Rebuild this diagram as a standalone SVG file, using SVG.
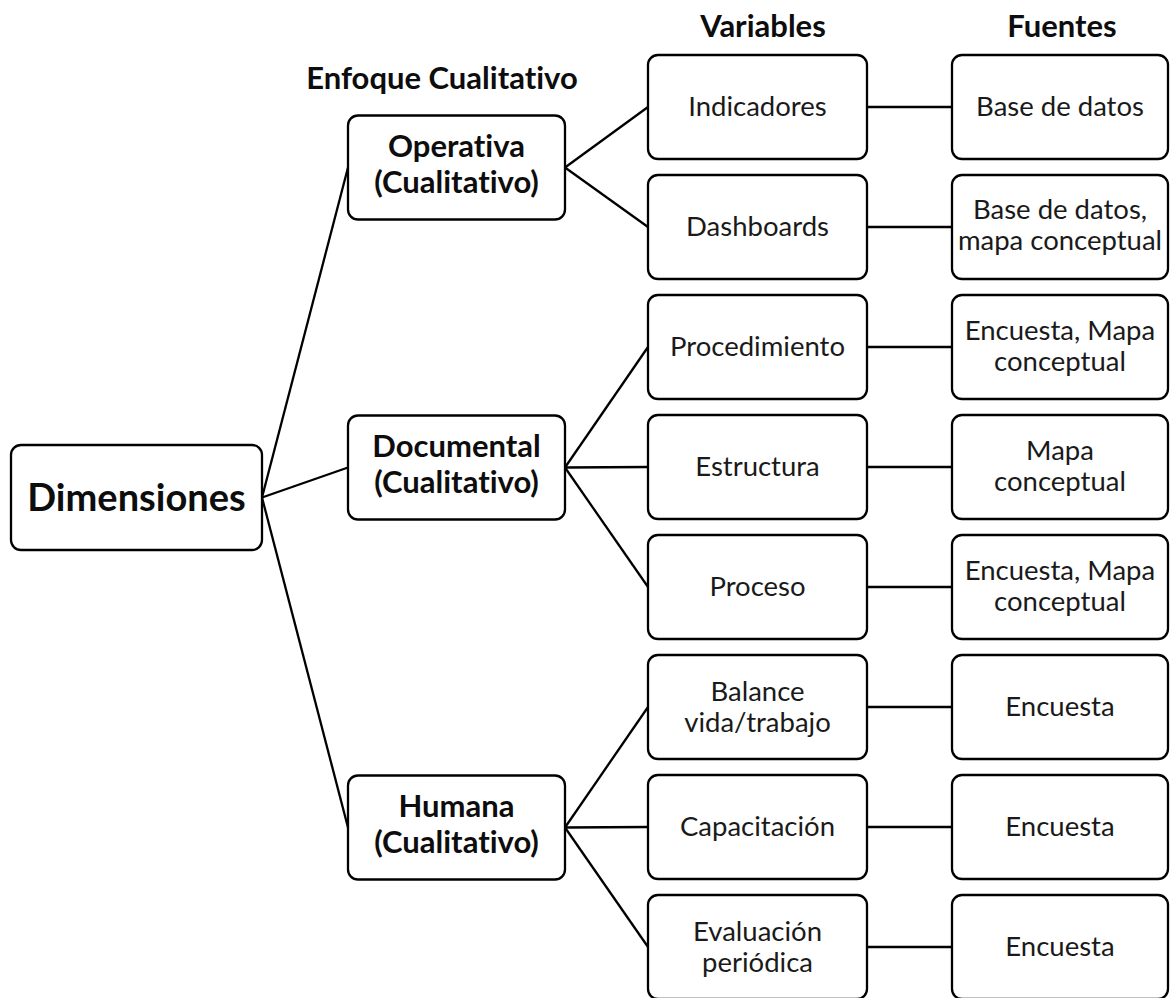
<svg xmlns="http://www.w3.org/2000/svg" width="1176" height="998" viewBox="0 0 1176 998">
<style>
  .box { fill: #fff; stroke: #000; stroke-width: 2.3; }
  .ln { stroke: #000; stroke-width: 2.3; fill: none; }
  text { font-family: Lato, "Open Sans", "Liberation Sans", sans-serif; fill: #0d0d0d; text-anchor: middle; font-variant-ligatures: none; font-feature-settings: "liga" 0, "dlig" 0; }
  .r { font-size: 27.5px; fill: #1a1a1a; }
  .b { font-size: 31px; font-weight: bold; }
  .big { font-size: 38px; font-weight: bold; }
</style>
<rect width="1176" height="998" fill="#fff"/>
<g id="connectors">
  <line class="ln" x1="262" y1="497.5" x2="348" y2="167.5"/>
  <line class="ln" x1="262" y1="497.5" x2="348" y2="467.5"/>
  <line class="ln" x1="262" y1="497.5" x2="348" y2="827.5"/>
  <line class="ln" x1="565" y1="167.5" x2="648" y2="107"/>
  <line class="ln" x1="565" y1="167.5" x2="648" y2="227"/>
  <line class="ln" x1="565" y1="467.5" x2="648" y2="347"/>
  <line class="ln" x1="565" y1="467.5" x2="648" y2="467"/>
  <line class="ln" x1="565" y1="467.5" x2="648" y2="587"/>
  <line class="ln" x1="565" y1="827.5" x2="648" y2="707"/>
  <line class="ln" x1="565" y1="827.5" x2="648" y2="827"/>
  <line class="ln" x1="565" y1="827.5" x2="648" y2="947"/>
  <line class="ln" x1="867" y1="107" x2="952" y2="107"/>
  <line class="ln" x1="867" y1="227" x2="952" y2="227"/>
  <line class="ln" x1="867" y1="347" x2="952" y2="347"/>
  <line class="ln" x1="867" y1="467" x2="952" y2="467"/>
  <line class="ln" x1="867" y1="587" x2="952" y2="587"/>
  <line class="ln" x1="867" y1="707" x2="952" y2="707"/>
  <line class="ln" x1="867" y1="827" x2="952" y2="827"/>
  <line class="ln" x1="867" y1="947" x2="952" y2="947"/>
</g>
<g id="headers">
  <text class="b" x="442" y="89">Enfoque Cualitativo</text>
  <text class="b" x="763" y="37">Variables</text>
  <text class="b" x="1062" y="37">Fuentes</text>
</g>
<g id="dimensiones">
  <rect class="box" x="11" y="445" width="251" height="105" rx="10"/>
  <text class="big" x="136.5" y="511">Dimensiones</text>
</g>
<g id="operativa">
  <rect class="box" x="348" y="115.5" width="217" height="104" rx="10"/>
  <text class="b" x="456.5" y="157">Operativa</text>
  <text class="b" x="456.5" y="193">(Cualitativo)</text>
</g>
<g id="documental">
  <rect class="box" x="348" y="415.5" width="217" height="104" rx="10"/>
  <text class="b" x="456.5" y="457">Documental</text>
  <text class="b" x="456.5" y="493">(Cualitativo)</text>
</g>
<g id="humana">
  <rect class="box" x="348" y="775.5" width="217" height="104" rx="10"/>
  <text class="b" x="456.5" y="817">Humana</text>
  <text class="b" x="456.5" y="853">(Cualitativo)</text>
</g>
<g id="indicadores">
  <rect class="box" x="648" y="55" width="219" height="104" rx="10"/>
  <text class="r" x="757.5" y="116">Indicadores</text>
</g>
<g id="dashboards">
  <rect class="box" x="648" y="175" width="219" height="104" rx="10"/>
  <text class="r" x="757.5" y="236">Dashboards</text>
</g>
<g id="procedimiento">
  <rect class="box" x="648" y="295" width="219" height="104" rx="10"/>
  <text class="r" x="757.5" y="356">Procedimiento</text>
</g>
<g id="estructura">
  <rect class="box" x="648" y="415" width="219" height="104" rx="10"/>
  <text class="r" x="757.5" y="476">Estructura</text>
</g>
<g id="proceso">
  <rect class="box" x="648" y="535" width="219" height="104" rx="10"/>
  <text class="r" x="757.5" y="596">Proceso</text>
</g>
<g id="balance">
  <rect class="box" x="648" y="655" width="219" height="104" rx="10"/>
  <text class="r" x="757.5" y="701">Balance</text>
  <text class="r" x="757.5" y="732">vida/trabajo</text>
</g>
<g id="capacitacion">
  <rect class="box" x="648" y="775" width="219" height="104" rx="10"/>
  <text class="r" x="757.5" y="836">Capacitación</text>
</g>
<g id="evaluacion">
  <rect class="box" x="648" y="895" width="219" height="104" rx="10"/>
  <text class="r" x="757.5" y="941">Evaluación</text>
  <text class="r" x="757.5" y="972">periódica</text>
</g>
<g id="fuente-1">
  <rect class="box" x="952" y="55" width="216" height="104" rx="10"/>
  <text class="r" x="1060" y="116">Base de datos</text>
</g>
<g id="fuente-2">
  <rect class="box" x="952" y="175" width="216" height="104" rx="10"/>
  <text class="r" x="1060" y="219">Base de datos,</text>
  <text class="r" x="1060" y="250">mapa conceptual</text>
</g>
<g id="fuente-3">
  <rect class="box" x="952" y="295" width="216" height="104" rx="10"/>
  <text class="r" x="1060" y="340">Encuesta, Mapa</text>
  <text class="r" x="1060" y="371">conceptual</text>
</g>
<g id="fuente-4">
  <rect class="box" x="952" y="415" width="216" height="104" rx="10"/>
  <text class="r" x="1060" y="460">Mapa</text>
  <text class="r" x="1060" y="491">conceptual</text>
</g>
<g id="fuente-5">
  <rect class="box" x="952" y="535" width="216" height="104" rx="10"/>
  <text class="r" x="1060" y="580">Encuesta, Mapa</text>
  <text class="r" x="1060" y="611">conceptual</text>
</g>
<g id="fuente-6">
  <rect class="box" x="952" y="655" width="216" height="104" rx="10"/>
  <text class="r" x="1060" y="716">Encuesta</text>
</g>
<g id="fuente-7">
  <rect class="box" x="952" y="775" width="216" height="104" rx="10"/>
  <text class="r" x="1060" y="836">Encuesta</text>
</g>
<g id="fuente-8">
  <rect class="box" x="952" y="895" width="216" height="104" rx="10"/>
  <text class="r" x="1060" y="956">Encuesta</text>
</g>
</svg>
